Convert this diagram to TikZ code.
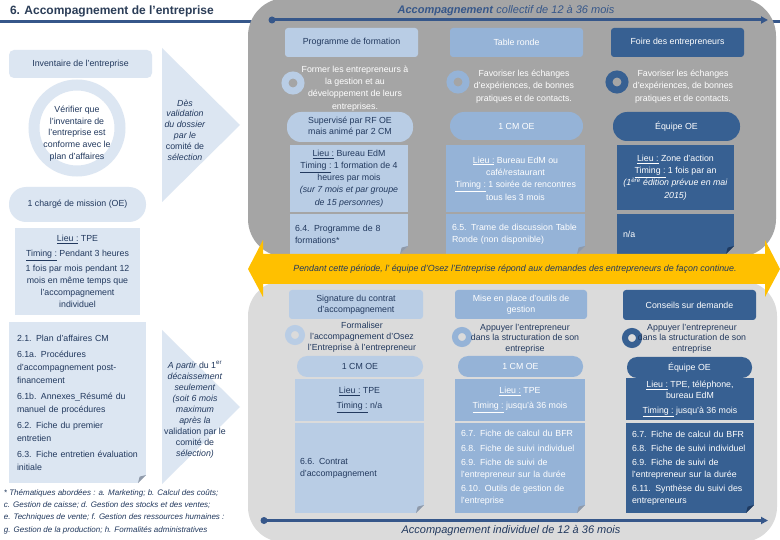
\documentclass[tikz,border=0pt]{standalone}
\usepackage{fontspec}
\setmainfont{Liberation Sans}
\usetikzlibrary{arrows.meta,calc}
\definecolor{gdark}{HTML}{A5A5A5}
\definecolor{glight}{HTML}{DBDBDB}
\definecolor{lleft}{HTML}{DCE6F2}
\definecolor{cA}{HTML}{B9CDE5}
\definecolor{cB}{HTML}{95B3D7}
\definecolor{cC}{HTML}{376092}
\definecolor{tnavy}{HTML}{22395E}
\definecolor{ttitle}{HTML}{2B3D57}
\definecolor{lblue}{HTML}{36578A}
\definecolor{yel}{HTML}{FFC000}
\definecolor{foldL}{HTML}{8F9AAA}
\definecolor{foldD}{HTML}{1F3A60}
\newcommand\fsz[2]{\fontsize{#1}{#2}\selectfont}
\newcommand\lieu{\underline{Lieu :}}
\newcommand\timing{\underline{Timing :}}
\newcommand\foldcorner[3]{%
  \fill[#2] ($(#1.south east)+(-8,0)$) -- (#1.south east) -- ($(#1.south east)+(0,-8)$) -- cycle;
  \fill[#3] ($(#1.south east)+(-8,0)$) -- ++(1.6,-6.4) -- ++(6.4,-1.6) -- cycle;
}
\begin{document}
\begin{tikzpicture}[x=1pt,y=-1pt,
  tx/.style={inner sep=0pt, outer sep=0pt, font=\fsz{8.8}{11.5}, align=center},
  hdr/.style={tx, rounded corners=3pt, minimum height=29pt},
  ring/.style={circle, draw=#1, line width=7pt, minimum size=16pt, inner sep=0pt},
  sring/.style={circle, draw=#1, line width=6pt, minimum size=14pt, inner sep=0pt},
  lin/.style={lblue, line width=3pt},
  ]
\useasboundingbox (0,0) rectangle (780,540);
\fill[white] (0,0) rectangle (780,540);
% title and its rule
\draw[lblue, line width=2.5pt] (0,21.5) -- (780,21.5);
\node[tx, font=\bfseries\fsz{12}{14}, text=ttitle, anchor=west] (title) at (10,11) {6. Accompagnement de l’entreprise};
% grey regions
\fill[gdark, rounded corners=38pt] (248,-2) rectangle (776,257);
\fill[glight, rounded corners=35pt] (248,281) rectangle (777,542);
% top axis
\coordinate (tl0) at (272,20);
\coordinate (tl1) at (768,20);
\draw[lin, -{Triangle[length=7pt,width=7pt]}] (tl0) -- (tl1);
\fill[lblue] (tl0) circle (3.5);
\node[tx, font=\fsz{11}{13}, text=lblue] (ttop) at (506,11) {\textbf{\textit{Accompagnement}} \textit{collectif de 12 à 36 mois}};
% ---------- top columns
\node[hdr, fill=cA, text=tnavy, minimum width=133pt] (h1) at (351.5,42.5) {Programme de formation};
\node[hdr, fill=cB, text=white, minimum width=133pt] (h2) at (516.5,42.5) {Table ronde};
\node[hdr, fill=cC, text=white, minimum width=133pt] (h3) at (677.5,42.5) {Foire des entrepreneurs};
\node[ring=cA] (r1) at (293,83) {};
\node[ring=cB] (r2) at (458,82) {};
\node[ring=cC] (r3) at (617,82) {};
\node[tx, text=white, font=\fsz{8.8}{12.3}] (d1) at (355,88.5) {Former les entrepreneurs à\\la gestion et au\\développement de leurs\\entreprises.};
\node[tx, text=white, font=\fsz{8.8}{12.5}] (d2) at (524,86.5) {Favoriser les échanges\\d’expériences, de bonnes\\pratiques et de contacts.};
\node[tx, text=white, font=\fsz{8.8}{12.5}] (d3) at (683,86.5) {Favoriser les échanges\\d’expériences, de bonnes\\pratiques et de contacts.};
\node[tx, fill=cA, text=tnavy, rounded corners=14pt, minimum width=126pt, minimum height=30pt, font=\fsz{8.8}{11}] (p1) at (350,127) {Supervisé par RF OE\\mais animé par 2 CM};
\node[tx, fill=cB, text=white, rounded corners=14pt, minimum width=133pt, minimum height=28pt] (p2) at (516.5,126) {1 CM OE};
\node[tx, fill=cC, text=white, rounded corners=14pt, minimum width=127pt, minimum height=29pt] (p3) at (676.5,126.5) {Équipe OE};
\node[tx, fill=cA, text=tnavy, minimum width=118pt, minimum height=67pt, font=\fsz{8.8}{12.2}] (b1) at (349,178.5) {\lieu{} Bureau EdM\\\timing{} 1 formation de 4\\heures par mois\\\textit{(sur 7 mois et par groupe}\\\textit{de 15 personnes)}};
\node[tx, fill=cB, text=white, minimum width=139pt, minimum height=67pt, font=\fsz{8.8}{12.3}] (b2) at (515.5,178.5) {\lieu{} Bureau EdM ou\\café/restaurant\\\timing{} 1 soirée de rencontres\\tous les 3 mois};
\node[tx, fill=cC, text=white, minimum width=117pt, minimum height=65pt, font=\fsz{8.8}{12.3}] (b3) at (675.5,177.5) {\lieu{} Zone d’action\\\timing{} 1 fois par an\\\textit{(1\textsuperscript{ère} édition prévue en mai}\\\textit{2015)}};
\node[tx, fill=cA, text=tnavy, minimum width=118pt, minimum height=40pt, text width=108pt, align=left, font=\fsz{8.8}{12}] (c1) at (349,234) {6.4. Programme de 8\\formations*};
\node[tx, fill=cB, text=white, minimum width=139pt, minimum height=40pt, text width=127pt, align=left, font=\fsz{8.8}{12}] (c2) at (515.5,234) {6.5. Trame de discussion Table\\Ronde (non disponible)};
\node[tx, fill=cC, text=white, minimum width=117pt, minimum height=40pt, text width=105pt, align=left] (c3) at (675.5,234) {n/a};
\foldcorner{c1}{gdark}{foldL}
\foldcorner{c2}{gdark}{foldL}
\foldcorner{c3}{gdark}{foldD}
% ---------- yellow arrow
\fill[yel] (248,269) -- (263,240) -- (263,254) -- (765,254) -- (765,240) -- (780,269) -- (765,297) -- (765,284) -- (263,284) -- (263,297) -- cycle;
\node[tx, font=\itshape\fsz{8.9}{11}, text=tnavy] (ytext) at (515,269) {Pendant cette période, l’ équipe d’Osez l’Entreprise répond aux demandes des entrepreneurs de façon continue.};
% ---------- lower columns
\node[hdr, fill=cA, text=tnavy, minimum width=134pt, font=\fsz{8.8}{11}] (H1) at (356,304.5) {Signature du contrat\\d’accompagnement};
\node[hdr, fill=cB, text=white, minimum width=132pt, font=\fsz{8.8}{11}] (H2) at (521,304.5) {Mise en place d’outils de\\gestion};
\node[hdr, fill=cC, text=white, minimum width=133pt, minimum height=30pt] (H3) at (689.5,305) {Conseils sur demande};
\node[sring=cA] (R1) at (295,335) {};
\node[sring=cB] (R2) at (462,337) {};
\node[sring=cC] (R3) at (632,338) {};
\node[tx, text=tnavy, font=\fsz{8.8}{11}] (D1) at (362,337) {Formaliser\\l’accompagnement d’Osez\\l’Entreprise à l’entrepreneur};
\node[tx, text=tnavy, font=\fsz{8.8}{10.5}] (D2) at (525,338.5) {Appuyer l’entrepreneur\\dans la structuration de son\\entreprise};
\node[tx, text=tnavy, font=\fsz{8.8}{10.5}] (D3) at (692,338.5) {Appuyer l’entrepreneur\\dans la structuration de son\\entreprise};
\node[tx, fill=cA, text=tnavy, rounded corners=10pt, minimum width=126pt, minimum height=21pt] (P1) at (360,366.5) {1 CM OE};
\node[tx, fill=cB, text=white, rounded corners=10pt, minimum width=125pt, minimum height=21pt] (P2) at (520.5,366.5) {1 CM OE};
\node[tx, fill=cC, text=white, rounded corners=10pt, minimum width=125pt, minimum height=21pt] (P3) at (689.5,367.5) {Équipe OE};
\node[tx, fill=cA, text=tnavy, minimum width=129pt, minimum height=42pt, font=\fsz{8.8}{12}] (B1) at (359.5,400) {\lieu{} TPE\\[3pt]\timing{} n/a};
\node[tx, fill=cB, text=white, minimum width=130pt, minimum height=42pt, font=\fsz{8.8}{12}] (B2) at (520,400) {\lieu{} TPE\\[3pt]\timing{} jusqu’à 36 mois};
\node[tx, fill=cC, text=white, minimum width=128pt, minimum height=42pt, font=\fsz{8.8}{11}] (B3) at (690,399) {\lieu{} TPE, téléphone,\\bureau EdM\\[4pt]\timing{} jusqu’à 36 mois};
\node[tx, fill=cA, text=tnavy, minimum width=129pt, minimum height=90pt, text width=119pt, align=left, font=\fsz{8.8}{12}] (C1) at (359.5,468) {6.6. Contrat\\d’accompagnement};
\node[tx, fill=cB, text=white, minimum width=130pt, minimum height=90pt, text width=118pt, align=left, font=\fsz{8.8}{12}] (C2) at (520,468) {6.7. Fiche de calcul du BFR\\[3pt]6.8. Fiche de suivi individuel\\[2pt]6.9. Fiche de suivi de\\l’entrepreneur sur la durée\\[2pt]6.10. Outils de gestion de\\l’entreprise};
\node[tx, fill=cC, text=white, minimum width=128pt, minimum height=90pt, text width=116pt, align=left, font=\fsz{8.8}{12}] (C3) at (690,468) {6.7. Fiche de calcul du BFR\\[2pt]6.8. Fiche de suivi individuel\\[2pt]6.9. Fiche de suivi de\\l’entrepreneur sur la durée\\[2pt]6.11. Synthèse du suivi des\\entrepreneurs};
\foldcorner{C1}{glight}{foldL}
\foldcorner{C2}{glight}{foldL}
\foldcorner{C3}{glight}{foldD}
% bottom axis
\coordinate (bl0) at (264,520.5);
\coordinate (bl1) at (768,520.5);
\draw[lin, -{Triangle[length=7pt,width=7pt]}] (bl0) -- (bl1);
\fill[lblue] (bl0) circle (3.5);
\node[tx, font=\itshape\fsz{11}{12}, text=tnavy] (btxt) at (511,531) {Accompagnement individuel de 12 à 36 mois};
% ---------- left side
\node[tx, fill=lleft, text=tnavy, rounded corners=5pt, minimum width=143pt, minimum height=28pt] (inv) at (80.5,64) {Inventaire de l’entreprise};
\node[circle, draw=lleft, line width=11pt, minimum size=86pt, inner sep=0pt] (ringL) at (77,128) {};
\node[tx, text=tnavy, font=\fsz{8.8}{11.8}] (verif) at (77,133.5) {Vérifier que\\l’inventaire de\\l’entreprise est\\conforme avec le\\plan d’affaires};
\fill[lleft] (162,48) -- (240,125) -- (162,202) -- cycle;
\node[tx, text=tnavy, font=\fsz{8.8}{10.8}] (des) at (185,130) {\textit{Dès}\\\textit{validation}\\\textit{du dossier}\\\textit{par le}\\comité de\\\textit{sélection}};
\node[tx, fill=lleft, text=tnavy, rounded corners=17pt, minimum width=137pt, minimum height=35pt] (cm) at (77.5,204.5) {1 chargé de mission (OE)};
\node[tx, fill=lleft, text=tnavy, minimum width=125pt, minimum height=87pt, font=\fsz{8.8}{12}] (tpe) at (77.5,271.5) {\lieu{} TPE\\[3pt]\timing{} Pendant 3 heures\\[3pt]1 fois par mois pendant 12\\mois en même temps que\\l’accompagnement\\individuel};
\node[tx, fill=lleft, text=tnavy, minimum width=137pt, minimum height=161pt, text width=121pt, align=left, font=\fsz{8.8}{13}] (docs) at (77.5,402.5) {2.1. Plan d’affaires CM\\[3pt]6.1a. Procédures\\d’accompagnement post-\\financement\\[3pt]6.1b. Annexes\_Résumé du\\manuel de procédures\\[3pt]6.2. Fiche du premier\\entretien\\[3pt]6.3. Fiche entretien évaluation\\initiale};
\foldcorner{docs}{white}{foldL}
\fill[lleft] (162,330) -- (240,407) -- (162,484) -- cycle;
\node[tx, text=tnavy, font=\fsz{8.8}{11}] (apartir) at (195,410) {\textit{A partir} du 1\textsuperscript{er}\\\textit{décaissement}\\\textit{seulement}\\\textit{(soit 6 mois}\\\textit{maximum}\\\textit{après la}\\validation par le\\comité de\\\textit{sélection)}};
\node[tx, text=tnavy, font=\itshape\fsz{8}{12.4}, align=left, anchor=west] (fn) at (4,511.5) {* Thématiques abordées : a. Marketing; b. Calcul des coûts;\\c. Gestion de caisse; d. Gestion des stocks et des ventes;\\e. Techniques de vente; f. Gestion des ressources humaines :\\g. Gestion de la production; h. Formalités administratives};
\end{tikzpicture}
\end{document}
